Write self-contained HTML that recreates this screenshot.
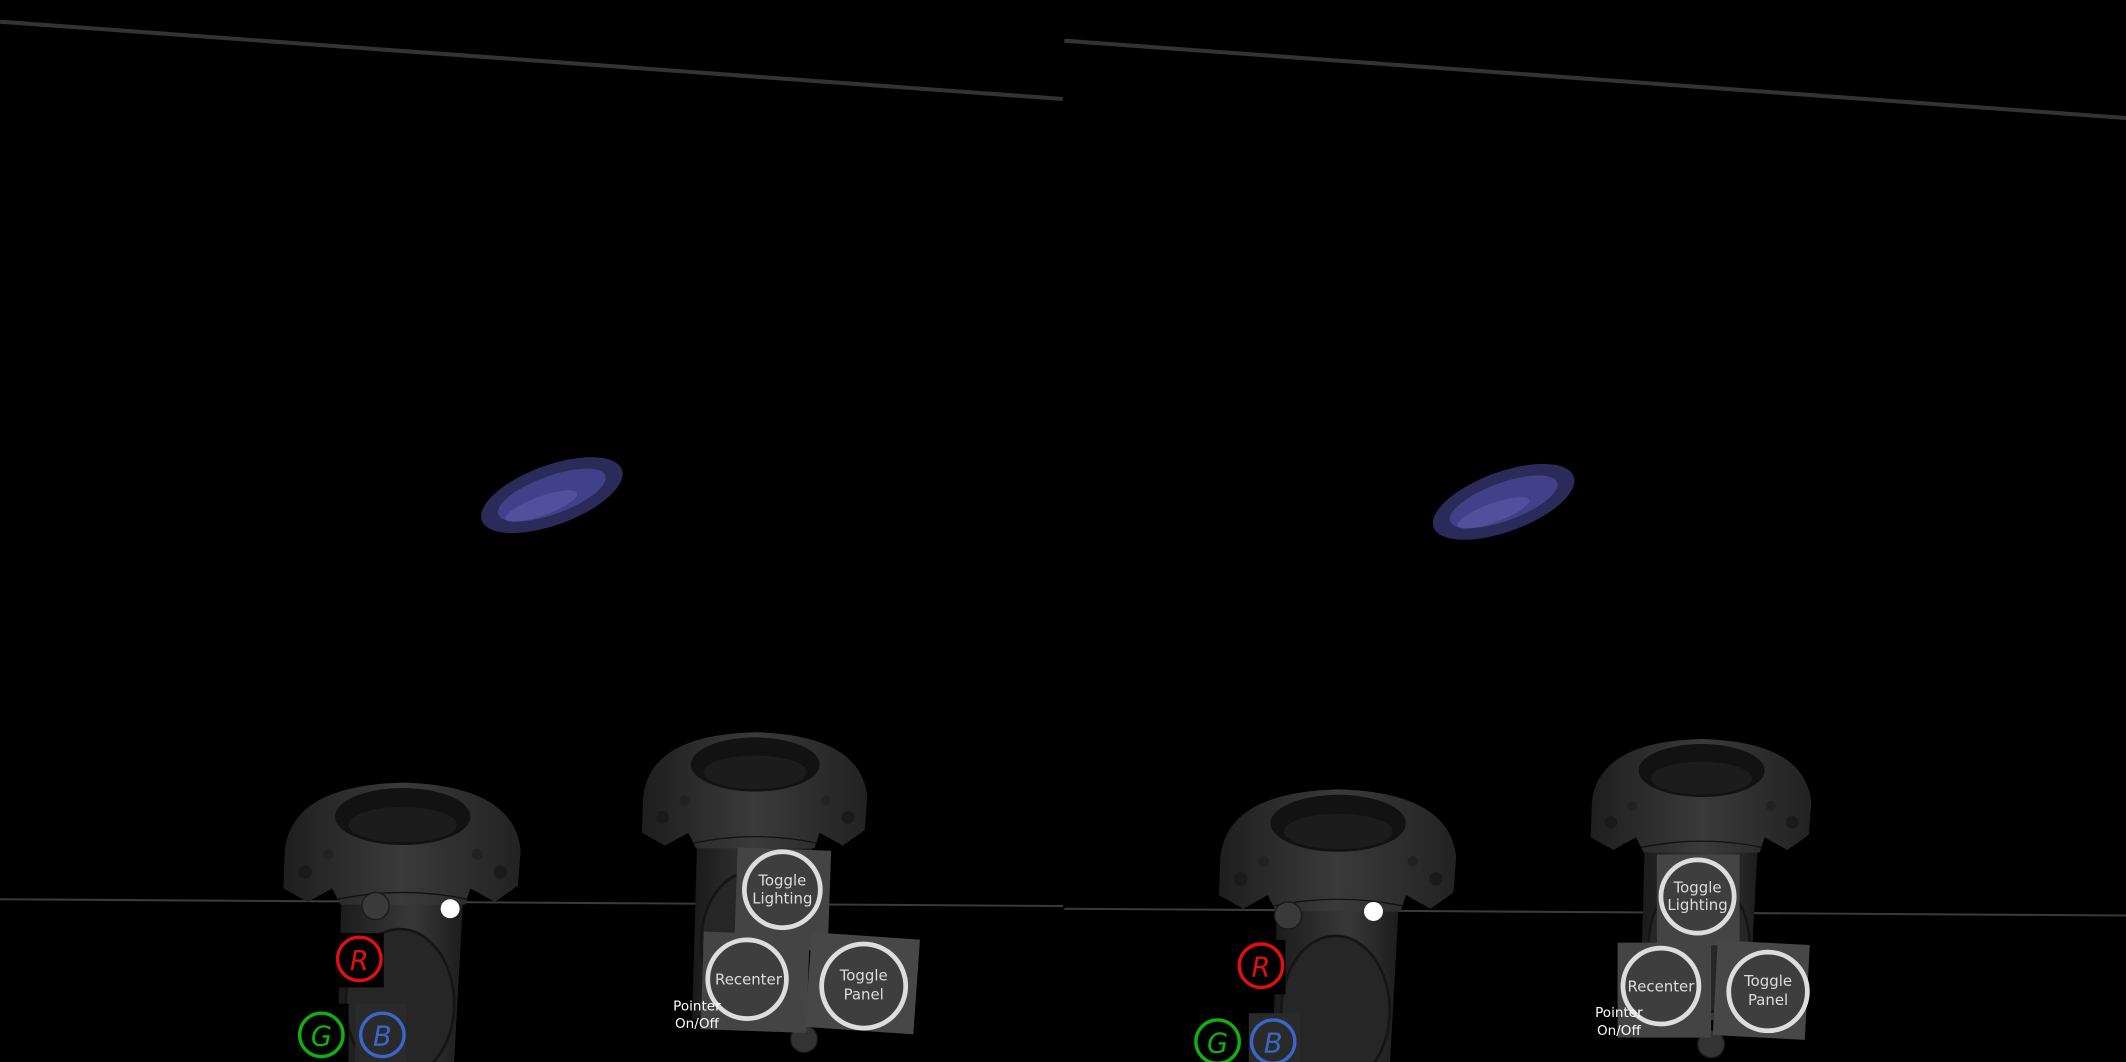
<!DOCTYPE html>
<html><head><meta charset="utf-8"><style>
html,body{margin:0;padding:0;background:#000;overflow:hidden;width:2126px;height:1062px}
svg{display:block}
text{font-family:"DejaVu Sans","Liberation Sans",sans-serif}
</style></head><body>
<svg width="2126" height="1062" viewBox="0 0 1568 783" preserveAspectRatio="none" xmlns="http://www.w3.org/2000/svg">
<defs>
<clipPath id="frame"><rect width="1568" height="783"/></clipPath>
<linearGradient id="hg" x1="0" y1="0" x2="1" y2="0"><stop offset="0" stop-color="#1e1e1e"/><stop offset="0.5" stop-color="#3a3a3a"/><stop offset="1" stop-color="#222"/></linearGradient>
<linearGradient id="bg2" x1="0" y1="0" x2="1" y2="0"><stop offset="0" stop-color="#1a1a1a"/><stop offset="0.6" stop-color="#383838"/><stop offset="1" stop-color="#1c1c1c"/></linearGradient>
<g id="ctrl">
<path d="M-45,80 L45,80 L37,225 L-49,225 Z" fill="url(#bg2)"/>
<path d="M-87,52 Q-82,4 0,2 Q82,4 87,52 L85,78 L68,90 L50,80 L46,92 L-46,92 L-52,80 L-70,90 L-88,80 Z" fill="url(#hg)"/>
<ellipse cx="0" cy="27" rx="50" ry="21" fill="#121212"/>
<ellipse cx="0" cy="33" rx="40" ry="13" fill="#1c1c1c"/>
<circle cx="-72" cy="68" r="5" fill="#1a1a1a"/><circle cx="72" cy="68" r="5" fill="#1a1a1a"/>
<circle cx="-55" cy="55" r="4" fill="#222"/><circle cx="55" cy="55" r="4" fill="#222"/>
<path d="M-48,88 Q0,78 48,88" stroke="#111" fill="none"/>
<ellipse cx="-2" cy="165" rx="40" ry="55" fill="#262626" stroke="#151515" stroke-width="2"/>
</g>
<g id="blob">
<ellipse rx="55" ry="22" fill="#3a3a78" opacity="0.75"/><ellipse rx="42" ry="14" fill="#4c4c9c" opacity="0.7"/><ellipse cx="-10" cy="5" rx="28" ry="7" fill="#5a5aaa" opacity="0.6"/>
</g>
</defs>
<g clip-path="url(#frame)">
<rect width="1568" height="783" fill="#000"/>
<line x1="0" y1="16" x2="784" y2="73" stroke="#333" stroke-width="3"/>
<line x1="785" y1="30" x2="1568" y2="87" stroke="#333" stroke-width="3"/>
<line x1="0" y1="663" x2="784" y2="668" stroke="#3a3a3a" stroke-width="1.5"/>
<line x1="785" y1="670" x2="1568" y2="675" stroke="#3a3a3a" stroke-width="1.5"/>

<g transform="translate(407,365) rotate(-20)"><use href="#blob"/></g>
<g transform="translate(1109,370) rotate(-20)"><use href="#blob"/></g>

<g>
<use href="#ctrl" transform="translate(297,575)"/>
<circle cx="277" cy="668" r="10" fill="#3a3a3a" stroke="#1a1a1a"/>
<circle cx="332" cy="670" r="7" fill="#fff"/>
<rect x="247" y="688" width="36" height="40" fill="#000"/><circle cx="265" cy="707" r="16" fill="none" stroke="#e01010" stroke-width="2.5"/><text x="265" y="715" fill="#e01010" font-size="20" font-style="italic" text-anchor="middle">R</text>
<rect x="220" y="740" width="37" height="43" fill="#000"/><circle cx="237" cy="763" r="16" fill="none" stroke="#10b010" stroke-width="2.5"/><text x="237" y="771" fill="#10b010" font-size="20" font-style="italic" text-anchor="middle">G</text>
<rect x="262" y="740" width="38" height="43" fill="#2a2a2a"/><circle cx="282" cy="763" r="16" fill="none" stroke="#3a66c8" stroke-width="2.5"/><text x="282" y="771" fill="#3a66c8" font-size="20" font-style="italic" text-anchor="middle">B</text>
</g>
<g>
<use href="#ctrl" transform="translate(557,538) scale(0.95)"/>
<circle cx="593" cy="766" r="10" fill="#333" stroke="#151515"/>
<rect x="543" y="626" width="69" height="74" fill="#444" transform="rotate(2 577 656)"/>
<circle cx="577" cy="656" r="28" fill="#3e3e3e" stroke="#ddd" stroke-width="3.5"/>
<text x="577" y="653" fill="#ddd" font-size="11" text-anchor="middle">Toggle</text><text x="577" y="666" fill="#ddd" font-size="11" text-anchor="middle">Lighting</text>
<rect x="518" y="688" width="78" height="72" fill="#444" transform="rotate(2 551 722)"/>
<circle cx="551" cy="722" r="29" fill="#3e3e3e" stroke="#ddd" stroke-width="3.5"/>
<text x="552" y="726" fill="#ddd" font-size="11" text-anchor="middle">Recenter</text>
<rect x="596" y="690" width="80" height="70" fill="#474747" transform="rotate(4 637 727)"/>
<circle cx="637" cy="727" r="31" fill="#3e3e3e" stroke="#ddd" stroke-width="3.5"/>
<text x="637" y="723" fill="#ddd" font-size="11" text-anchor="middle">Toggle</text><text x="637" y="737" fill="#ddd" font-size="11" text-anchor="middle">Panel</text>
<text x="514" y="745" fill="#fff" font-size="10" text-anchor="middle">Pointer</text><text x="514" y="758" fill="#fff" font-size="10" text-anchor="middle">On/Off</text>
</g>

<g>
<use href="#ctrl" transform="translate(987,580)"/>
<circle cx="950" cy="675" r="10" fill="#3a3a3a" stroke="#1a1a1a"/>
<circle cx="1013" cy="672" r="7" fill="#fff"/>
<rect x="912" y="693" width="36" height="40" fill="#000"/><circle cx="930" cy="712" r="16" fill="none" stroke="#e01010" stroke-width="2.5"/><text x="930" y="720" fill="#e01010" font-size="20" font-style="italic" text-anchor="middle">R</text>
<rect x="880" y="747" width="37" height="36" fill="#000"/><circle cx="898" cy="768" r="16" fill="none" stroke="#10b010" stroke-width="2.5"/><text x="898" y="776" fill="#10b010" font-size="20" font-style="italic" text-anchor="middle">G</text>
<rect x="921" y="747" width="38" height="36" fill="#2a2a2a"/><circle cx="939" cy="768" r="16" fill="none" stroke="#3a66c8" stroke-width="2.5"/><text x="939" y="776" fill="#3a66c8" font-size="20" font-style="italic" text-anchor="middle">B</text>
</g>
<g>
<use href="#ctrl" transform="translate(1255,543) scale(0.93)"/>
<circle cx="1262" cy="770" r="10" fill="#333" stroke="#151515"/>
<rect x="1222" y="630" width="61" height="67" fill="#444"/>
<circle cx="1252" cy="661" r="27" fill="#3e3e3e" stroke="#ddd" stroke-width="3.5"/>
<text x="1252" y="658" fill="#ddd" font-size="11" text-anchor="middle">Toggle</text><text x="1252" y="671" fill="#ddd" font-size="11" text-anchor="middle">Lighting</text>
<rect x="1193" y="695" width="69" height="70" fill="#444"/>
<circle cx="1225" cy="727" r="28" fill="#3e3e3e" stroke="#ddd" stroke-width="3.5"/>
<text x="1225" y="731" fill="#ddd" font-size="11" text-anchor="middle">Recenter</text>
<rect x="1265" y="695" width="68" height="70" fill="#474747" transform="rotate(3 1300 730)"/>
<circle cx="1304" cy="731" r="29" fill="#3e3e3e" stroke="#ddd" stroke-width="3.5"/>
<text x="1304" y="727" fill="#ddd" font-size="11" text-anchor="middle">Toggle</text><text x="1304" y="741" fill="#ddd" font-size="11" text-anchor="middle">Panel</text>
<text x="1194" y="750" fill="#fff" font-size="10" text-anchor="middle">Pointer</text><text x="1194" y="763" fill="#fff" font-size="10" text-anchor="middle">On/Off</text>
</g>
</g>
</svg>
</body></html>
